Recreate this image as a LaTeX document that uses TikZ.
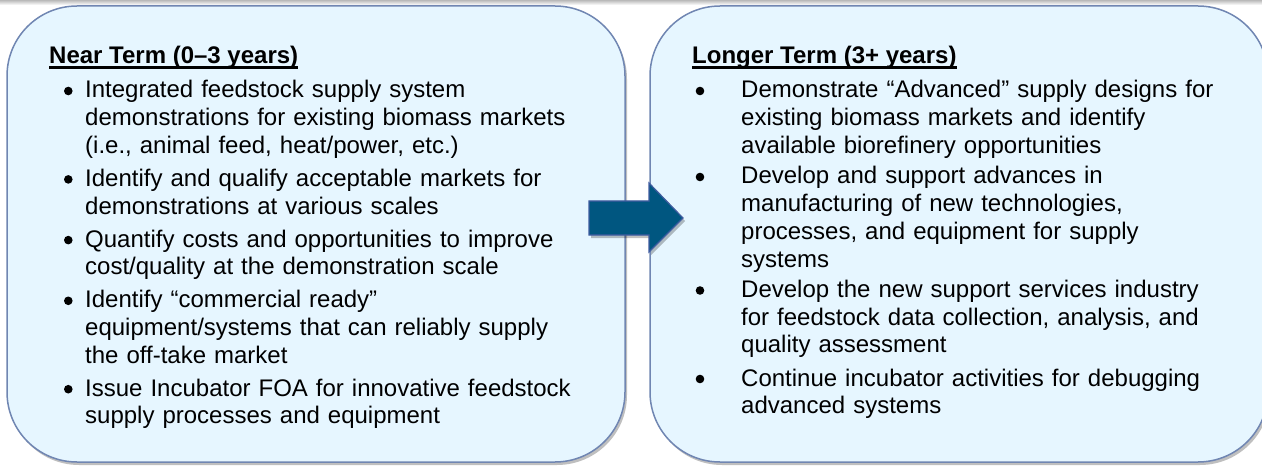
\documentclass[tikz,border=0pt]{standalone}
\usepackage{fontspec}
\setmainfont{Liberation Sans}
\usetikzlibrary{shadows}
\definecolor{boxfill}{RGB}{230,246,255}
\definecolor{boxline}{RGB}{112,134,178}
\definecolor{arrowfill}{RGB}{0,86,128}
\definecolor{arrowline}{RGB}{64,92,160}
\begin{document}
\begin{tikzpicture}[x=1pt,y=-1pt,
  box/.style={draw=boxline, line width=1.5pt, fill=boxfill, rectangle,
    rounded corners=70pt, inner sep=0pt, minimum width=618pt, minimum height=456pt,
    drop shadow={shadow xshift=2pt, shadow yshift=-3pt, opacity=0.25, fill=black}},
  hd/.style={font=\bfseries\fontsize{24}{28}\selectfont, anchor=base west, inner sep=0pt},
  bt/.style={font=\fontsize{24}{27.7}\selectfont, anchor=base west, inner sep=0pt,
    text width=540pt, align=left},
  dot/.style={circle, fill=black, inner sep=0pt, minimum size=8.6pt},
  uline/.style={line width=2.2pt, black}]
\useasboundingbox (0,0) rectangle (1262,468);
\clip (0,0) rectangle (1262,468);
\fill[white] (0,0) rectangle (1262,468);
\shade[top color=gray!55, bottom color=white] (0,0) rectangle (1262,5);

% boxes
\node[box] (left) at (316,234) {};
\node[box] (right) at (959,234) {};

% arrow
\draw[fill=arrowfill, draw=arrowline, line width=1.2pt, line join=miter,
  drop shadow={shadow xshift=2pt, shadow yshift=-3pt, opacity=0.25, fill=black}]
  (589,201) -- (649,201) -- (649,183) -- (683,218) -- (649,252) -- (649,235) -- (589,235) -- cycle;

% left box
\node[hd] (lh) at (49,64) {Near Term (0–3 years)};
\draw[uline] ([yshift=-3.5pt]lh.base west) -- ([yshift=-3.5pt]lh.base east);

\node[dot] (lb1) at (68.3,91) {};
\node[bt] (lt1) at (85,98) {Integrated feedstock supply system\\demonstrations for existing biomass markets\\(i.e., animal feed, heat/power, etc.)};
\node[dot] (lb2) at (68.3,179.4) {};
\node[bt] (lt2) at (85,186.4) {Identify and qualify acceptable markets for\\demonstrations at various scales};
\node[dot] (lb3) at (68.3,240.1) {};
\node[bt] (lt3) at (85,247.1) {Quantify costs and opportunities to improve\\cost/quality at the demonstration scale};
\node[dot] (lb4) at (68.3,300.8) {};
\node[bt] (lt4) at (85,307.8) {Identify “commercial ready”\\equipment/systems that can reliably supply\\the off-take market};
\node[dot] (lb5) at (68.3,389.2) {};
\node[bt] (lt5) at (85,396.2) {Issue Incubator FOA for innovative feedstock\\supply processes and equipment};

% right box
\node[hd] (rh) at (692,64) {Longer Term (3+ years)};
\draw[uline] ([yshift=-3.5pt]rh.base west) -- ([yshift=-3.5pt]rh.base east);

\node[dot] (rb1) at (700,91) {};
\node[bt] (rt1) at (741,98) {Demonstrate “Advanced” supply designs for\\existing biomass markets and identify\\available biorefinery opportunities};
\node[dot] (rb2) at (700,177) {};
\node[bt] (rt2) at (741,184) {Develop and support advances in\\manufacturing of new technologies,\\processes, and equipment for supply\\systems};
\node[dot] (rb3) at (700,290.5) {};
\node[bt] (rt3) at (741,297.5) {Develop the new support services industry\\for feedstock data collection, analysis, and\\quality assessment};
\node[dot] (rb4) at (700,379) {};
\node[bt] (rt4) at (741,386) {Continue incubator activities for debugging\\advanced systems};
\end{tikzpicture}
\end{document}
